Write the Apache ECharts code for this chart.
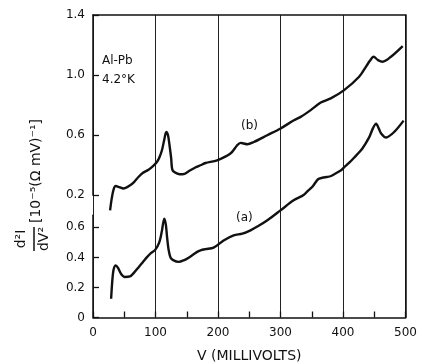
<!DOCTYPE html>
<html>
<head>
<meta charset="utf-8">
<script src="https://cdn.jsdelivr.net/npm/echarts@6/dist/echarts.min.js"></script>
<style>
html,body{margin:0;padding:0;background:#fff;}
#chart{width:421px;height:364px;}
</style>
</head>
<body>
<div id="chart"></div>
<script>
// ---- data ----
// curve (a): lower scale
const voltA = [29, 31, 33, 36.5, 40, 45, 51, 59, 66, 73, 80, 86, 93, 99.5, 106, 110, 114, 116.5, 118.5, 121, 124, 129, 137, 145, 153, 166, 172, 180, 193, 209, 225, 239, 252, 265, 279, 300, 321, 337, 343, 351, 360, 367, 374, 380, 388, 397, 402, 410, 418, 431, 442, 448, 453, 457, 461, 469, 482, 497];
const curveA = [0.125, 0.25, 0.32, 0.347, 0.33, 0.29, 0.27, 0.273, 0.30, 0.335, 0.37, 0.40, 0.43, 0.45, 0.50, 0.57, 0.658, 0.62, 0.535, 0.45, 0.40, 0.38, 0.37, 0.38, 0.398, 0.435, 0.447, 0.455, 0.465, 0.513, 0.547, 0.558, 0.58, 0.61, 0.647, 0.713, 0.78, 0.815, 0.84, 0.87, 0.92, 0.93, 0.935, 0.94, 0.958, 0.98, 1.0, 1.03, 1.065, 1.125, 1.2, 1.26, 1.29, 1.26, 1.225, 1.198, 1.235, 1.31];
// curve (b): upper scale
const voltB = [27.3, 30, 33, 36.4, 42, 48.6, 59.4, 66, 72.7, 80, 88.8, 96, 102.2, 106, 110.3, 114, 117.2, 120, 122, 125, 127.3, 135, 143.3, 155, 163.7, 172, 180, 198.6, 219.9, 230.7, 236, 241, 246.7, 257.3, 278.8, 300.2, 321.5, 332.3, 348.3, 364.4, 380.4, 401.8, 425.8, 436.6, 443, 449, 456, 463.4, 476.7, 495.5];
const curveB = [0.10, 0.18, 0.24, 0.262, 0.255, 0.245, 0.267, 0.29, 0.322, 0.35, 0.371, 0.395, 0.422, 0.45, 0.50, 0.57, 0.622, 0.60, 0.547, 0.45, 0.367, 0.345, 0.34, 0.365, 0.385, 0.40, 0.415, 0.433, 0.478, 0.533, 0.549, 0.545, 0.54, 0.555, 0.60, 0.645, 0.70, 0.722, 0.767, 0.818, 0.845, 0.90, 0.989, 1.055, 1.095, 1.122, 1.10, 1.089, 1.122, 1.193];

// axis ranges / tick steps
const xRange = [0, 500];
const xMajorStep = 100;
const xMinorStep = 50;
const lowerScale = [0, 0.68];      // visible part of the lower (a) scale
const lowerStep = 0.2;
const upperScale = [0.2, 1.4];     // visible part of the upper (b) scale
const upperStep = 0.4;
const aFull = [0, 2.013];          // full plot range in (a) units
const bFull = [-0.613, 1.4];       // full plot range in (b) units

const FONT = 'DejaVu Sans';
const INK = '#111';

const zip = (xs, ys) => xs.map((x, i) => [x, ys[i]]);
const fmt = v => (Math.abs(v) < 1e-9 ? '0' : Number(v).toFixed(1));

const chart = echarts.init(document.getElementById('chart'), null, {renderer: 'canvas'});

const axisLineStyle = {color: INK, width: 1.5};
const tickStyle = {color: INK, width: 1.3};

// layout
const G = {left: 93, right: 15.5, top: 15, bottom: 46.5};
const H = 364 - G.top - G.bottom;
const pxPerUnit = H / (aFull[1] - aFull[0]);
const lowerTop = 364 - G.bottom - (lowerScale[1] - lowerScale[0]) * pxPerUnit;
const upperBottom = 364 - (G.top + (upperScale[1] - upperScale[0]) * pxPerUnit);

const none = {show: false};
const gridBase = {left: G.left, right: G.right, show: false, containLabel: false, outerBoundsMode: 'none'};

const option = {
  animation: false,
  backgroundColor: '#fff',
  grid: [
    Object.assign({top: G.top, bottom: G.bottom}, gridBase),      // data
    Object.assign({top: lowerTop, bottom: G.bottom}, gridBase),   // lower scale + minor x ticks
    Object.assign({top: G.top, bottom: upperBottom}, gridBase),   // upper scale
    Object.assign({top: G.top, bottom: G.bottom}, gridBase)       // frame top/right
  ],
  xAxis: [
    {
      type: 'value', gridIndex: 0, min: xRange[0], max: xRange[1], interval: xMajorStep, position: 'bottom',
      axisLine: {show: true, onZero: false, lineStyle: axisLineStyle},
      axisTick: none,
      axisLabel: {show: true, color: INK, fontSize: 12, fontFamily: FONT, margin: 9},
      splitLine: {show: true, lineStyle: {color: '#222', width: 1}},
      name: 'V (MILLIVOLTS)', nameLocation: 'middle', nameGap: 32,
      nameTextStyle: {color: INK, fontSize: 14, fontFamily: FONT}
    },
    {
      type: 'value', gridIndex: 1, min: xRange[0], max: xRange[1], interval: xMinorStep, position: 'bottom',
      axisLine: {show: false, onZero: false},
      axisTick: {show: true, inside: true, length: 6, lineStyle: tickStyle},
      axisLabel: none, splitLine: none
    },
    {type: 'value', gridIndex: 2, min: xRange[0], max: xRange[1], show: false},
    {
      type: 'value', gridIndex: 3, min: xRange[0], max: xRange[1], position: 'top',
      axisLine: {show: true, onZero: false, lineStyle: axisLineStyle},
      axisTick: none, axisLabel: none, splitLine: none
    }
  ],
  yAxis: [
    {type: 'value', gridIndex: 0, min: aFull[0], max: aFull[1], show: false},
    {type: 'value', gridIndex: 0, min: bFull[0], max: bFull[1], show: false},
    {
      type: 'value', gridIndex: 1, min: lowerScale[0], max: lowerScale[1], interval: lowerStep, position: 'left',
      axisLine: {show: true, onZero: false, lineStyle: axisLineStyle},
      axisTick: {show: true, inside: true, length: 6, lineStyle: tickStyle},
      axisLabel: {show: true, formatter: fmt, color: INK, fontSize: 12, fontFamily: FONT, margin: 8, showMaxLabel: false},
      splitLine: none
    },
    {
      type: 'value', gridIndex: 2, min: upperScale[0], max: upperScale[1], interval: upperStep, position: 'left',
      axisLine: {show: true, onZero: false, lineStyle: axisLineStyle},
      axisTick: {show: true, inside: true, length: 6, lineStyle: tickStyle},
      axisLabel: {show: true, formatter: fmt, color: INK, fontSize: 12, fontFamily: FONT, margin: 8},
      splitLine: none
    },
    {
      type: 'value', gridIndex: 3, min: 0, max: 1, position: 'right',
      axisLine: {show: true, onZero: false, lineStyle: axisLineStyle},
      axisTick: none, axisLabel: none, splitLine: none
    }
  ],
  series: [
    {
      name: '(a)', type: 'line', xAxisIndex: 0, yAxisIndex: 0,
      data: zip(voltA, curveA), showSymbol: false, smooth: 0.3,
      lineStyle: {color: INK, width: 2.4}, silent: true
    },
    {
      name: '(b)', type: 'line', xAxisIndex: 0, yAxisIndex: 1,
      data: zip(voltB, curveB), showSymbol: false, smooth: 0.3,
      lineStyle: {color: INK, width: 2.4}, silent: true
    }
  ],
  graphic: [
    {type: 'text', left: 102, top: 55, style: {text: 'Al-Pb', fill: INK, font: '12px "DejaVu Sans"'}},
    {type: 'text', left: 102, top: 74, style: {text: '4.2°K', fill: INK, font: '12px "DejaVu Sans"'}},
    {type: 'text', left: 241, top: 120, style: {text: '(b)', fill: INK, font: '12px "DejaVu Sans"'}},
    {type: 'text', left: 236, top: 212, style: {text: '(a)', fill: INK, font: '12px "DejaVu Sans"'}},
    {
      type: 'group', x: 34, y: 181, rotation: Math.PI / 2,
      children: [
        {type: 'text', x: -58, y: -13, style: {text: 'd²I', fill: INK, font: '14px "DejaVu Sans"', align: 'center', verticalAlign: 'middle'}},
        {type: 'line', shape: {x1: -70, y1: 0, x2: -46, y2: 0}, style: {stroke: INK, lineWidth: 1.5}},
        {type: 'text', x: -58, y: 10, style: {text: 'dV²', fill: INK, font: '14px "DejaVu Sans"', align: 'center', verticalAlign: 'middle'}},
        {type: 'text', x: -42, y: 2, style: {text: '[10⁻⁵(Ω mV)⁻¹]', fill: INK, font: '14px "DejaVu Sans"', align: 'left', verticalAlign: 'middle'}}
      ]
    }
  ]
};

chart.setOption(option);
</script>
</body>
</html>
